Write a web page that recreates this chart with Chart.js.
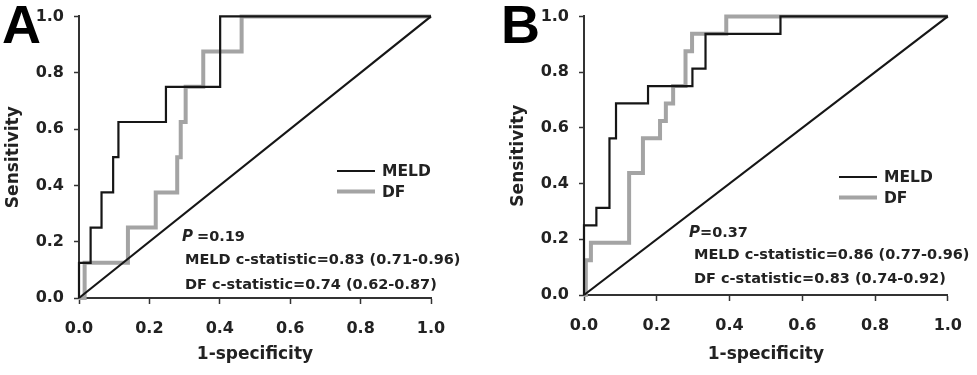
<!DOCTYPE html>
<html>
<head>
<meta charset="utf-8">
<script src="https://cdn.jsdelivr.net/npm/chart.js@4"></script>
<style>
  body { margin: 0; background: #fff; }
  #wrap { position: relative; width: 977px; height: 375px; overflow: hidden; }
  canvas { position: absolute; top: 0; }
</style>
</head>
<body>
<div id="wrap">
  <canvas id="panelA" width="487" height="375" style="left:0"></canvas>
  <canvas id="panelB" width="490" height="375" style="left:487px"></canvas>
</div>
<script>
// ROC steps (1-specificity, sensitivity)
const meldA_fpr = [0, 0, 0.033, 0.064, 0.097, 0.112, 0.247, 0.401, 1.0];
const meldA_tpr = [0, 0.125, 0.25, 0.375, 0.5, 0.625, 0.75, 1.0, 1.0];
const dfA_fpr = [0, 0.016, 0.139, 0.218, 0.279, 0.289, 0.303, 0.353, 0.462, 1.0];
const dfA_tpr = [0, 0.125, 0.25, 0.375, 0.5, 0.625, 0.75, 0.875, 1.0, 1.0];

const meldB_fpr = [0, 0, 0.034, 0.07, 0.088, 0.176, 0.298, 0.334, 0.54, 1.0];
const meldB_tpr = [0, 0.25, 0.3125, 0.5625, 0.6875, 0.75, 0.8125, 0.9375, 1.0, 1.0];
const dfB_fpr = [0, 0.005, 0.019, 0.124, 0.162, 0.209, 0.225, 0.245, 0.279, 0.297, 0.391, 1.0];
const dfB_tpr = [0, 0.125, 0.1875, 0.4375, 0.5625, 0.625, 0.6875, 0.75, 0.875, 0.9375, 1.0, 1.0];

const ref_fpr = [0, 1];
const ref_tpr = [0, 1];

const seriesNames = ['MELD', 'DF'];
const statsA = ['=0.19', 'MELD c-statistic=0.83 (0.71-0.96)', 'DF c-statistic=0.74 (0.62-0.87)'];
const statsB = ['=0.37', 'MELD c-statistic=0.86 (0.77-0.96)', 'DF c-statistic=0.83 (0.74-0.92)'];

Chart.defaults.font.family = "'DejaVu Sans', sans-serif";

const BLACK = '#161616';
const GREY = '#a4a4a4';

function pts(xs, ys) {
    return xs.map((x, i) => ({ x: x, y: ys[i] }));
}

// panel letter, legend and the statistics text
const overlay = {
    id: 'overlay',
    afterDraw(chart, args, o) {
        const ctx = chart.ctx;
        ctx.save();
        ctx.fillStyle = '#000';
        ctx.textBaseline = 'alphabetic';
        ctx.font = 'bold 54px "Liberation Sans"';
        ctx.fillText(o.letter, o.letterX, 43);

        // legend
        ctx.textBaseline = 'middle';
        ctx.font = 'bold 15.5px "DejaVu Sans"';
        seriesNames.forEach((name, i) => {
            const y = o.legY + i * 20.5;
            ctx.beginPath();
            ctx.strokeStyle = i === 0 ? BLACK : GREY;
            ctx.lineWidth = i === 0 ? 2.2 : 4;
            ctx.moveTo(o.legX, y);
            ctx.lineTo(o.legX + 38, y);
            ctx.stroke();
            ctx.fillStyle = '#222';
            ctx.fillText(name, o.legX + 45, y + 1);
        });

        // statistics
        ctx.textBaseline = 'alphabetic';
        ctx.fillStyle = '#222';
        ctx.font = 'italic bold 15px "DejaVu Sans"';
        ctx.fillText('P', o.pX, o.lines[0]);
        const pw = ctx.measureText('P').width;
        ctx.font = 'bold 14.5px "DejaVu Sans"';
        ctx.fillText(o.stats[0], o.pX + pw + o.pGap, o.lines[0]);
        ctx.fillText(o.stats[1], o.tX, o.lines[1]);
        ctx.fillText(o.stats[2], o.tX, o.lines[2]);
        ctx.restore();
    }
};

function axis(titleText, isX, size) {
    return {
        type: 'linear',
        min: 0,
        max: 1,
        border: { color: '#333', width: 2 },
        grid: { drawOnChartArea: false, tickLength: isX ? 6 : 5, tickColor: '#333', tickWidth: 1.5 },
        ticks: {
            stepSize: 0.2,
            padding: isX ? 15 : 10,
            color: '#222',
            font: { size: 16, weight: 'bold', lineHeight: isX ? 1.2 : 0.8 },
            callback: v => v.toFixed(1)
        },
        title: {
            display: true,
            text: titleText,
            color: '#222',
            font: { size: 17, weight: 'bold' },
            padding: isX ? { top: 0, bottom: 10 } : { top: 3, bottom: 0 }
        },
        afterFit: s => {
            if (isX) s.height = size; else s.width = size;
        }
    };
}

function makePanel(id, meld, df, pad, xH, ov) {
    new Chart(document.getElementById(id), {
        type: 'scatter',
        data: {
            datasets: [
                { label: seriesNames[0], data: pts(meld[0], meld[1]), showLine: true, stepped: true,
                  borderColor: BLACK, borderWidth: 2.2, pointRadius: 0, clip: false },
                { label: 'ref', data: pts(ref_fpr, ref_tpr), showLine: true,
                  borderColor: BLACK, borderWidth: 2.2, pointRadius: 0, clip: false },
                { label: seriesNames[1], data: pts(df[0], df[1]), showLine: true, stepped: true,
                  borderColor: GREY, borderWidth: 4, pointRadius: 0, clip: false }
            ]
        },
        options: {
            responsive: false,
            animation: false,
            layout: { padding: pad },
            scales: {
                x: axis('1-specificity', true, xH),
                y: axis('Sensitivity', false, 79)
            },
            plugins: {
                legend: { display: false },
                tooltip: { enabled: false },
                overlay: ov
            }
        },
        plugins: [overlay]
    });
}

makePanel('panelA', [meldA_fpr, meldA_tpr], [dfA_fpr, dfA_tpr],
    { left: 0, right: 56, top: 12, bottom: 0 }, 77,
    { letter: 'A', letterX: 2, legX: 337, legY: 171, pX: 182, pGap: 4, tX: 185, lines: [241, 264, 289], stats: statsA });

makePanel('panelB', [meldB_fpr, meldB_tpr], [dfB_fpr, dfB_tpr],
    { left: 18, right: 28, top: 7, bottom: 0 }, 80,
    { letter: 'B', letterX: 14, legX: 352, legY: 177, pX: 202, pGap: 0, tX: 207, lines: [237, 259, 283], stats: statsB });
</script>
</body>
</html>
